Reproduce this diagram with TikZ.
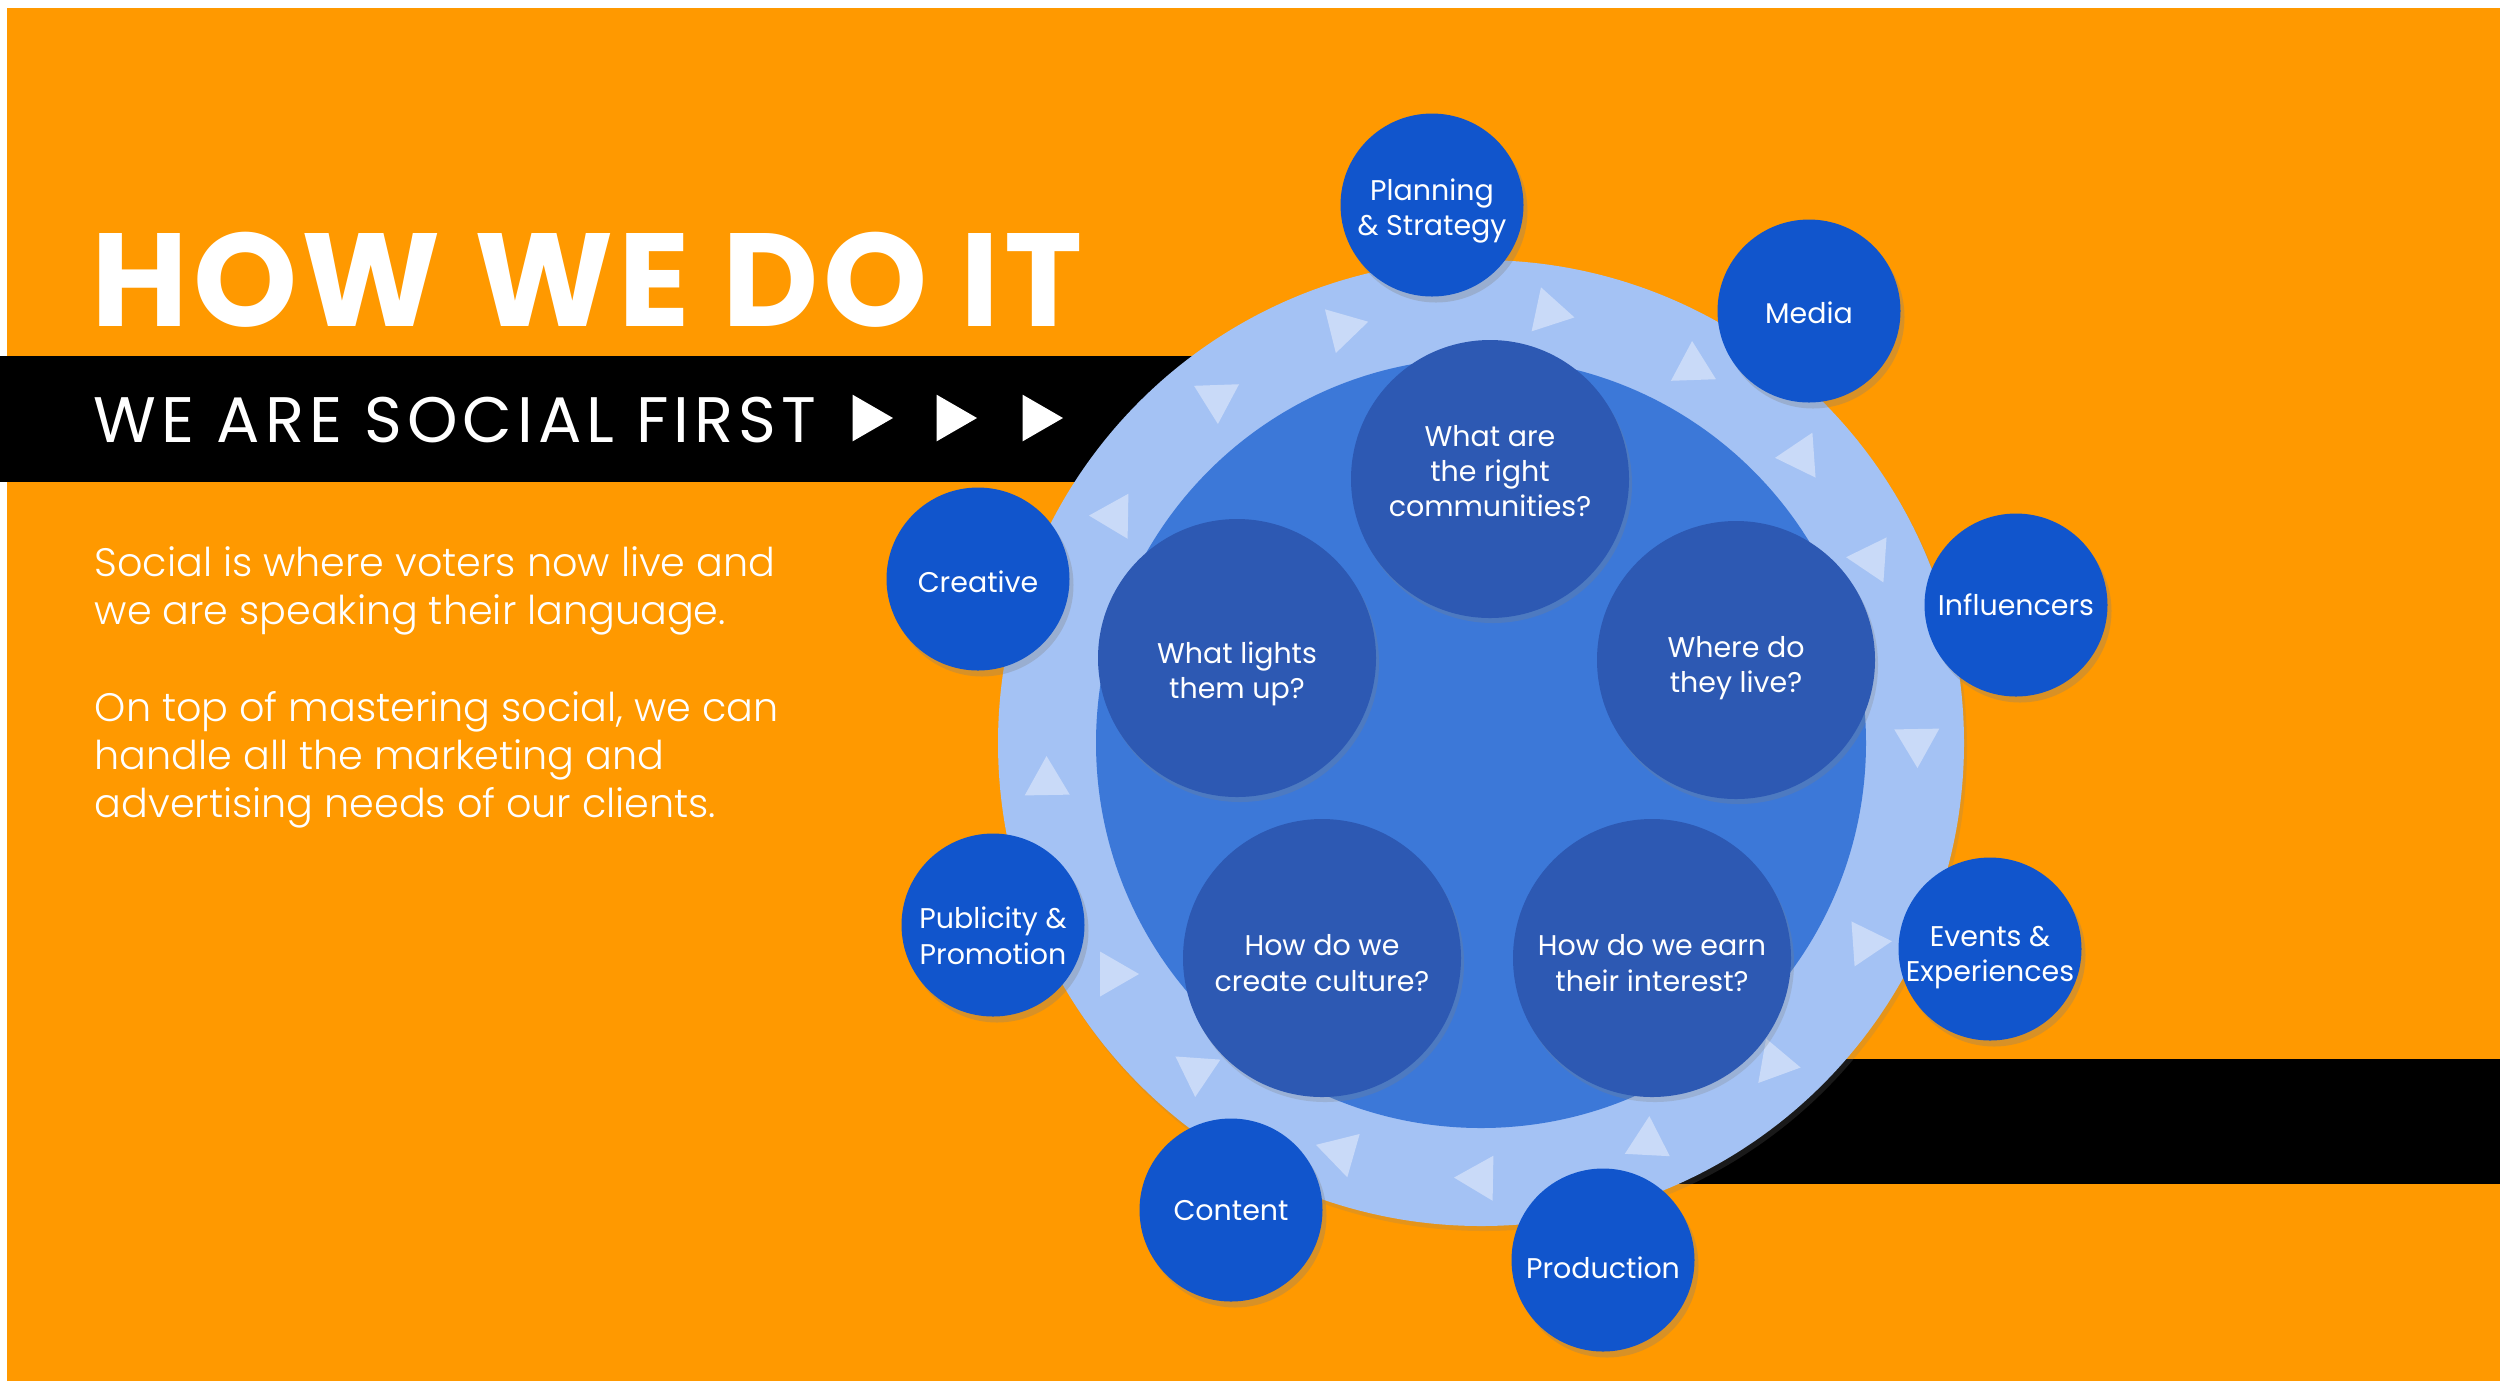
\documentclass[tikz,border=0pt]{standalone}
\usepackage{fontspec}
\setmainfont{Poppins}
\newfontfamily\thinfont{Poppins}[UprightFont=* Light]
\usetikzlibrary{shapes.geometric,shadows,positioning}
\definecolor{cOrange}{HTML}{FF9900}
\definecolor{cRing}{HTML}{A4C2F4}
\definecolor{cCore}{HTML}{3C78D8}
\definecolor{cAsk}{HTML}{2D59B3}
\definecolor{cSvc}{HTML}{1155CC}
\definecolor{cTri}{HTML}{C9DAF8}
\tikzset{
  svc/.style={circle,fill=cSvc,text=white,minimum size=18.3mm,inner sep=-2mm,
    align=center,font=\fontsize{8.1}{10}\selectfont,
    drop shadow={shadow xshift=.4mm,shadow yshift=-.6mm,opacity=.3}},
  ask/.style={circle,fill=cAsk,text=white,minimum size=27.8mm,inner sep=-2mm,
    align=center,font=\fontsize{8.1}{10}\selectfont,
    drop shadow={shadow xshift=.3mm,shadow yshift=-.5mm,opacity=.25}},
  tri/.style={regular polygon,regular polygon sides=3,fill=cTri,
    minimum size=5.2mm,inner sep=0pt},
  play/.style={regular polygon,regular polygon sides=3,shape border rotate=-90,
    fill=white,minimum size=5.4mm,inner sep=0pt},
  txt/.style={text=white,inner sep=0pt},
}
% text block nudged up/down inside its circle
\newcommand{\lift}[2]{\raisebox{#1}[\height][\depth]{%
  \begin{tabular}{@{}c@{}}#2\end{tabular}}}

\begin{document}
\begin{tikzpicture}[x=0.1mm,y=-0.1mm]
  \useasboundingbox (0,0) rectangle (2500,1386);
  \fill[white] (0,0) rectangle (2500,1386);
  \fill[cOrange] (7,8) rectangle (2500,1381);
  % black bands behind the wheel
  \fill[black] (0,356) rectangle (1480,482);
  \fill[black] (1480,1059) rectangle (2500,1184);
  % wheel
  \coordinate (hub) at (1481,743);
  \fill[cRing,drop shadow={shadow xshift=.3mm,shadow yshift=-.5mm,opacity=.2}]
    (hub) circle[radius=48.3mm];
  \fill[cCore] (hub) circle[radius=38.5mm];
  % ring triangles: x/y/tip angle
  \foreach \x/\y/\a [count=\i] in {1217/398/-88,1343/328/14,1549/312/-12,
      1693/367/92,1801/456/184,1872/559/176,1917/742/-89,1866/943/4,
      1775/1063/-10,1648/1142/87,1480/1178/179,1341/1152/-76,
      1197/1071/-94,1113/974/0,1047/782/91,1115/516/179}
    \node[tri,shape border rotate=\a-90] (t\i) at (\x,\y) {};
  % questions
  \node[ask] (comm) at (1490,479) {\lift{.45mm}{What are\\the right\\communities?}};
  \node[ask] (live) at (1736,660) {\lift{-.8mm}{Where do\\they live?}};
  \node[ask] (earn) at (1652,958) {\lift{-.85mm}{How do we earn\\their interest?}};
  \node[ask] (cult) at (1322,958) {\lift{-.85mm}{How do we\\create culture?}};
  \node[ask] (light) at (1237,658) {\lift{-1.6mm}{What lights\\them up?}};
  % services
  \node[svc] (plan) at (1432,205) {\lift{-.6mm}{Planning\\\& Strategy}};
  \node[svc] (media) at (1809,311) {\lift{-.55mm}{Media}};
  \node[svc] (infl) at (2016,605) {\lift{-.35mm}{Influencers}};
  \node[svc] (event) at (1990,949) {\lift{-.8mm}{Events \&\\Experiences}};
  \node[svc] (prod) at (1603,1260) {\lift{-1.15mm}{Production}};
  \node[svc] (cont) at (1231,1210) {\lift{-.35mm}{Content}};
  \node[svc] (publ) at (993,925) {\lift{-1.45mm}{Publicity \&\\Promotion}};
  \node[svc] (crea) at (978,579) {\lift{-.65mm}{Creative}};
  % heading
  \node[txt,anchor=base west,
    font=\fontsize{37.7}{40}\selectfont\bfseries\addfontfeature{LetterSpace=3.5}]
    (title) at (91,326) {HOW WE DO IT};
  \node[txt,anchor=base west,
    font=\fontsize{18.3}{20}\selectfont\addfontfeature{LetterSpace=7.8}]
    (sub) at (93,442) {WE ARE SOCIAL FIRST};
  \foreach \x [count=\i] in {866,950,1036}
    \node[play] (p\i) at (\x,418) {};
  \node[txt,anchor=north west,align=left,
    font=\thinfont\fontsize{11.3}{13.6}\selectfont]
    (blurb) at (94,546) {Social is where voters now live and\\
      we are speaking their language.\\[14.1pt]
      On top of mastering social, we can\\
      handle all the marketing and\\
      advertising needs of our clients.};
\end{tikzpicture}
\end{document}
